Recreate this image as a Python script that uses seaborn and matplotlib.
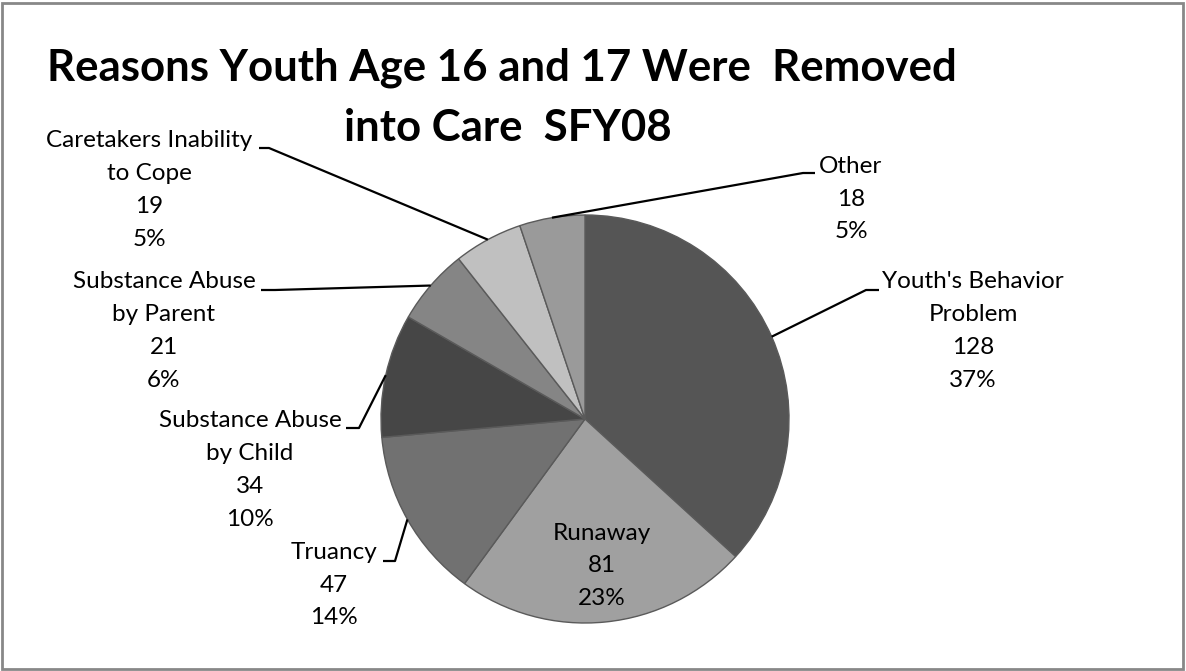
import numpy as np
import matplotlib
matplotlib.use('Agg')
import matplotlib.pyplot as plt
import seaborn as sns
from matplotlib.patches import Rectangle

# data
categories = ["Youth's Behavior\nProblem", "Runaway", "Truancy",
              "Substance Abuse\nby Child", "Substance Abuse\nby Parent",
              "Caretakers Inability\nto Cope", "Other"]
counts = [128, 81, 47, 34, 21, 19, 18]
shades = ['#555555', '#a0a0a0', '#717171', '#464646', '#858585', '#c0c0c0', '#9a9a9a']
title_lines = ["Reasons Youth Age 16 and 17 Were  Removed", "into Care  SFY08"]

# label block centres and leader tails (pixel coords, y from top); None = inside slice
label_pos = [(973, 331), (602, 566), (334, 585), (250, 470), (164, 331), (149, 190), (851, 199)]
tails = [((879, 290), (866, 290)), None, ((383, 561), (395, 561)),
         ((346, 428), (359, 428)), ((261, 290), (275, 290)),
         ((259, 148), (269, 148)), ((815, 173), (803, 173))]

sns.set_theme(style='white')
plt.rcParams['font.family'] = ['Lato', 'DejaVu Sans']

W, H = 1186, 671
fig = plt.figure(figsize=(W / 100, H / 100), dpi=100)
ax = fig.add_axes([0, 0, 1, 1])

cx, cy, r = 585, 419, 204
wedges, _ = ax.pie(counts, colors=shades, startangle=90, counterclock=False,
                   center=(cx, H - cy), radius=r, frame=True,
                   wedgeprops=dict(edgecolor='#5a5a5a', linewidth=1))
ax.set_xlim(0, W)
ax.set_ylim(0, H)
ax.set_aspect('equal')
ax.axis('off')

total = sum(counts)
for w, name, n, pos, tail in zip(wedges, categories, counts, label_pos, tails):
    txt = f"{name}\n{n}\n{round(n / total * 100)}%"
    ax.text(pos[0], H - pos[1], txt, ha='center', va='center', ma='center',
            fontsize=17.5, linespacing=1.69, color='black')
    if tail is None:
        continue
    mid = np.deg2rad((w.theta1 + w.theta2) / 2)
    px, py = cx + r * np.cos(mid), (H - cy) + r * np.sin(mid)
    (tx, ty), (ex, ey) = tail
    ax.plot([tx, ex, px], [H - ty, H - ey, py], color='black', lw=1.6,
            solid_capstyle='butt')

# title, one text per line
for (tx, ty), line in zip([(502, 68), (508, 128)], title_lines):
    ax.text(tx, H - ty, line, ha='center', va='center', fontsize=31.5,
            fontweight='bold', color='black')

fig.patches.append(Rectangle((2, 2), W - 5, H - 5, transform=None, fill=False,
                             edgecolor='#888888', linewidth=2))

fig.savefig('out.png', dpi=100)
